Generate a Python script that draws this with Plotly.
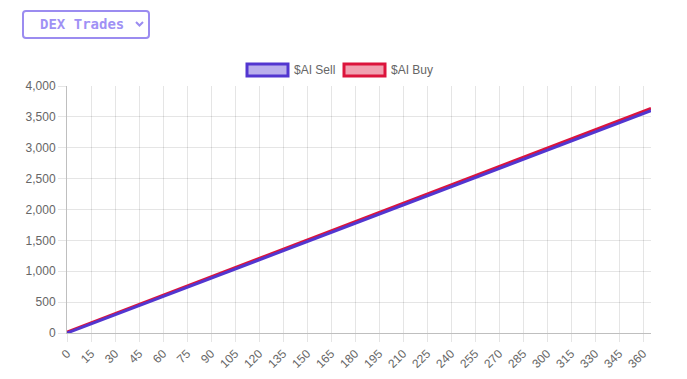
import plotly.graph_objects as go

days = [0, 15, 30, 45, 60, 75, 90, 105, 120, 135, 150, 165, 180, 195, 210, 225,
        240, 255, 270, 285, 300, 315, 330, 345, 360, 365]
sell = [0, 148, 296, 444, 592, 740, 887, 1035, 1183, 1331, 1479, 1627, 1775, 1923,
        2071, 2219, 2366, 2514, 2662, 2810, 2958, 3106, 3254, 3402, 3550, 3599]
buy = [15, 164, 313, 462, 611, 760, 909, 1058, 1207, 1356, 1505, 1653, 1802, 1951,
       2100, 2249, 2398, 2547, 2696, 2845, 2994, 3143, 3292, 3441, 3590, 3639]
x_ticks = list(range(0, 361, 15))
y_ticks = list(range(0, 4001, 500))

W, H = 687, 379
L, R, T, B = 67, 36, 86, 46
PW, PH = W - L - R, H - T - B

SELL_C = "rgb(82,54,208)"
BUY_C = "rgb(220,20,60)"

fig = go.Figure()
fig.add_trace(go.Scatter(x=days, y=buy, mode="lines", name="$AI Buy",
                         line=dict(color=BUY_C, width=3), showlegend=False))
fig.add_trace(go.Scatter(x=days, y=sell, mode="lines", name="$AI Sell",
                         line=dict(color=SELL_C, width=3), showlegend=False))

def px(x):
    return (x - L) / PW

def py(y):
    return (H - B - y) / PH

shapes = []
annotations = []

# dropdown box
x0, x1, y0, y1, r = 23, 149, 11, 38, 3
path = (f"M {px(x0+r)},{py(y0)} L {px(x1-r)},{py(y0)} Q {px(x1)},{py(y0)} {px(x1)},{py(y0+r)} "
        f"L {px(x1)},{py(y1-r)} Q {px(x1)},{py(y1)} {px(x1-r)},{py(y1)} "
        f"L {px(x0+r)},{py(y1)} Q {px(x0)},{py(y1)} {px(x0)},{py(y1-r)} "
        f"L {px(x0)},{py(y0+r)} Q {px(x0)},{py(y0)} {px(x0+r)},{py(y0)} Z")
shapes.append(dict(type="path", xref="paper", yref="paper", path=path,
                   line=dict(color="rgb(155,140,240)", width=2), fillcolor="white"))
# chevron
shapes.append(dict(type="path", xref="paper", yref="paper",
                   path=f"M {px(136)},{py(22)} L {px(139.5)},{py(25.5)} L {px(143)},{py(22)}",
                   line=dict(color="rgb(155,140,240)", width=2)))
annotations.append(dict(xref="paper", yref="paper", x=px(38), y=py(24.5), xanchor="left",
                        yanchor="middle", text="<b>DEX Trades</b>", showarrow=False,
                        font=dict(family="DejaVu Sans Mono", size=14, color="rgb(160,145,245)")))

# legend
def legend_item(bx, label, line_c, fill_c):
    shapes.append(dict(type="rect", xref="paper", yref="paper",
                       x0=px(bx), x1=px(bx + 41), y0=py(64), y1=py(76),
                       line=dict(color=line_c, width=3), fillcolor=fill_c))
    annotations.append(dict(xref="paper", yref="paper", x=px(bx + 45), y=py(70),
                            xanchor="left", yanchor="middle", text=label, showarrow=False,
                            font=dict(family="Liberation Sans, Arial", size=12, color="#666")))

legend_item(247, "$AI Sell", SELL_C, "rgba(82,54,208,0.4)")
legend_item(344, "$AI Buy", BUY_C, "rgba(220,20,60,0.4)")

fig.update_layout(
    width=W, height=H,
    margin=dict(l=L, r=R, t=T, b=B, pad=0, autoexpand=False),
    paper_bgcolor="white", plot_bgcolor="white",
    font=dict(family="Liberation Sans, Arial", size=12, color="#666"),
    shapes=shapes, annotations=annotations,
    showlegend=False,
)
fig.update_xaxes(range=[0, 365], tickvals=x_ticks, ticktext=[str(v) for v in x_ticks],
                 tickangle=-45, showgrid=True, gridcolor="rgba(0,0,0,0.1)", gridwidth=1,
                 ticks="outside", ticklen=8, tickcolor="rgba(0,0,0,0.1)",
                 showline=True, linecolor="rgba(0,0,0,0.25)", linewidth=1, automargin=False,
                 zeroline=False, tickfont=dict(size=12, color="#666"))
fig.update_yaxes(range=[0, 4000], tickvals=y_ticks, tickformat=",",
                 showgrid=True, gridcolor="rgba(0,0,0,0.1)", gridwidth=1,
                 ticks="outside", ticklen=8, tickcolor="rgba(0,0,0,0.1)",
                 showline=True, linecolor="rgba(0,0,0,0.25)", linewidth=1, automargin=False,
                 zeroline=False, tickfont=dict(size=12, color="#666"))

fig.write_html("out.html", config={"displayModeBar": False},
               post_script="document.body.style.margin='0';document.body.style.overflow='hidden';")
